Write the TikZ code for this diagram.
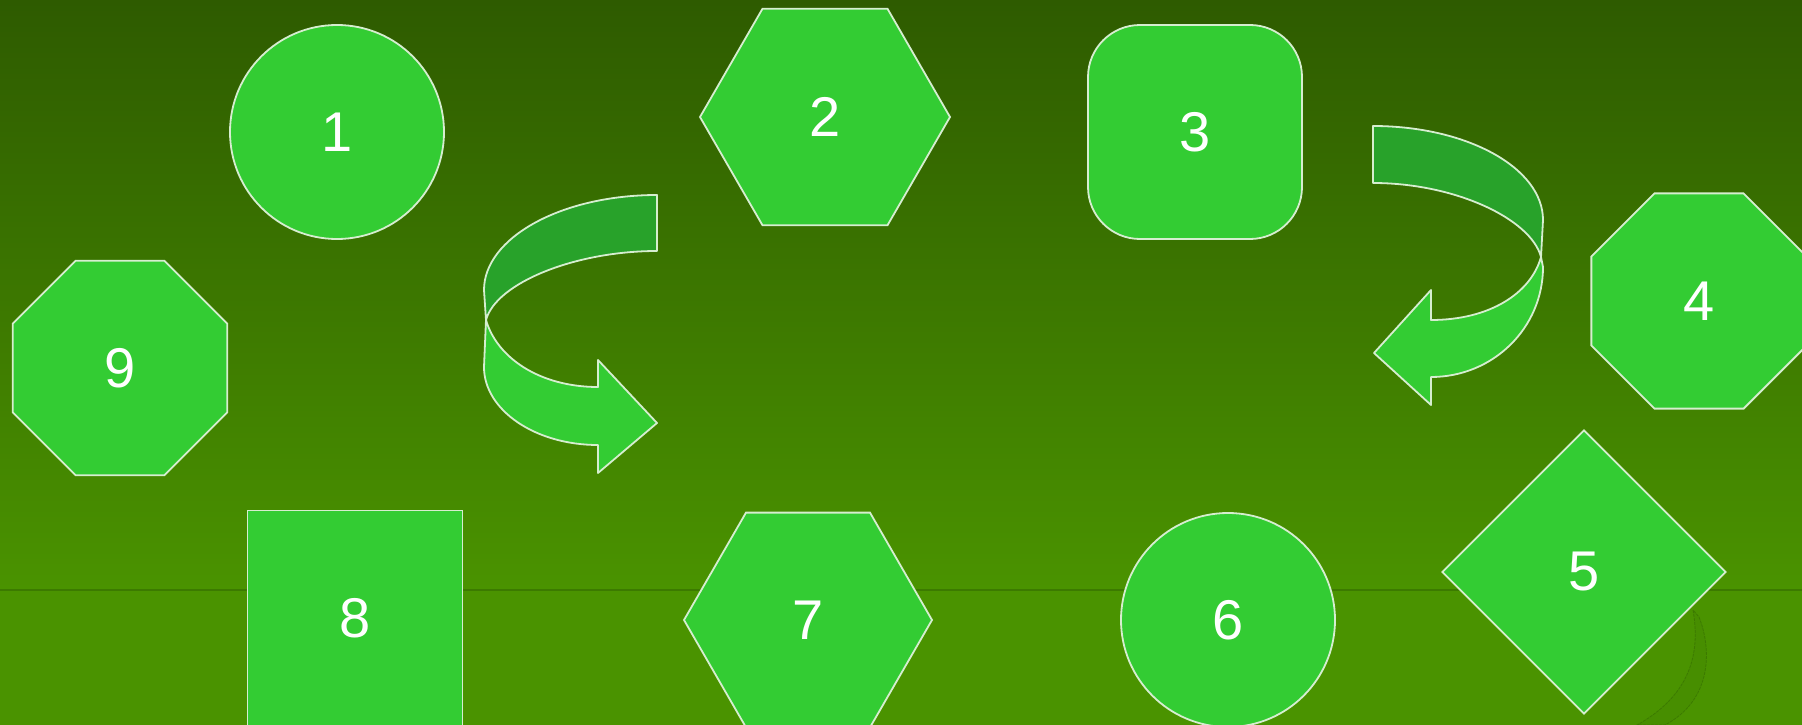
\documentclass[tikz,border=0pt]{standalone}
\usepackage{fontspec}
\setmainfont{Liberation Sans}
\usepackage{tikz}
\usetikzlibrary{shapes.geometric}
\definecolor{bgtop}{RGB}{46,91,0}
\definecolor{bgbot}{RGB}{74,147,0}
\definecolor{bgline}{RGB}{60,122,0}
\definecolor{shpfill}{RGB}{51,204,51}
\definecolor{ribback}{RGB}{40,162,42}
\definecolor{rim}{RGB}{214,238,208}
\definecolor{ghost}{RGB}{71,142,0}
\tikzset{
  shp/.style  = {draw=rim, line width=1.8pt, fill=shpfill, inner sep=0pt,
                 text=white, font=\fontsize{56}{60}\selectfont},
  rib/.style  = {draw=rim, line width=1.8pt, line join=round},
  hexa/.style = {shp, regular polygon, regular polygon sides=6},
  octa/.style = {shp, regular polygon, regular polygon sides=8},
}

\begin{document}
\begin{tikzpicture}[x=1pt, y=-1pt]
  \useasboundingbox (0,0) rectangle (1802,725);
  \clip (0,0) rectangle (1802,725);

  % background
  \shade[top color=bgtop, bottom color=bgbot] (0,0) rectangle (1802,590);
  \fill[bgbot] (0,590) rectangle (1802,725);
  \draw[bgline, line width=2pt] (0,590) -- (1802,590);

  % faint ribbon behind the diamond
  \fill[ghost, draw=bgline, line width=0.8pt, dashed, dash pattern=on 3pt off 1pt]
    (1693,610) .. controls (1698,640) and (1700,690) .. (1637,725)
    -- (1665,725) .. controls (1712,700) and (1712,650) .. (1699,617) -- cycle;

  % shapes
  \node[shp, circle, minimum size=214pt] (one) at (337,132) {1};
  \node[hexa, minimum size=250pt] (two) at (825,117) {2};
  \node[shp, rectangle, rounded corners=52pt, minimum width=214pt,
        minimum height=214pt] (three) at (1195,132) {3};
  \node[octa, minimum size=233pt] (four) at (1699,301) {4};
  \node[shp, diamond, minimum width=284pt, minimum height=284pt] (five) at (1584,572) {5};
  \node[shp, circle, minimum size=214pt] (six) at (1228,620) {6};
  \node[hexa, minimum size=248pt] (seven) at (808,620) {7};
  \node[shp, rectangle, minimum width=215pt, minimum height=215pt] (eight) at (355,618) {8};
  \node[octa, minimum size=232pt] (nine) at (120,368) {9};

  % left curved arrow
  \draw[rib, fill=ribback]
    (657,195) .. controls (561,195) and (484,238) .. (484,290) -- (486,320)
    .. controls (496,283) and (575,251) .. (657,251) -- cycle;
  \draw[rib, fill=shpfill]
    (486,320) -- (484,367) .. controls (484,410) and (535,445) .. (598,445)
    -- (598,473) -- (657,423) -- (598,360) -- (598,387)
    .. controls (540,387) and (497,358) .. (486,320) -- cycle;

  % right curved arrow
  \draw[rib, fill=ribback]
    (1373,126) .. controls (1467,126) and (1543,168) .. (1543,220) -- (1541,257)
    .. controls (1531,219) and (1455,183) .. (1373,183) -- cycle;
  \draw[rib, fill=shpfill]
    (1541,257) -- (1543,267) .. controls (1543,328) and (1493,377) .. (1431,377)
    -- (1431,405) -- (1374,353) -- (1431,290) -- (1431,320)
    .. controls (1490,320) and (1531,293) .. (1541,257) -- cycle;
\end{tikzpicture}
\end{document}
